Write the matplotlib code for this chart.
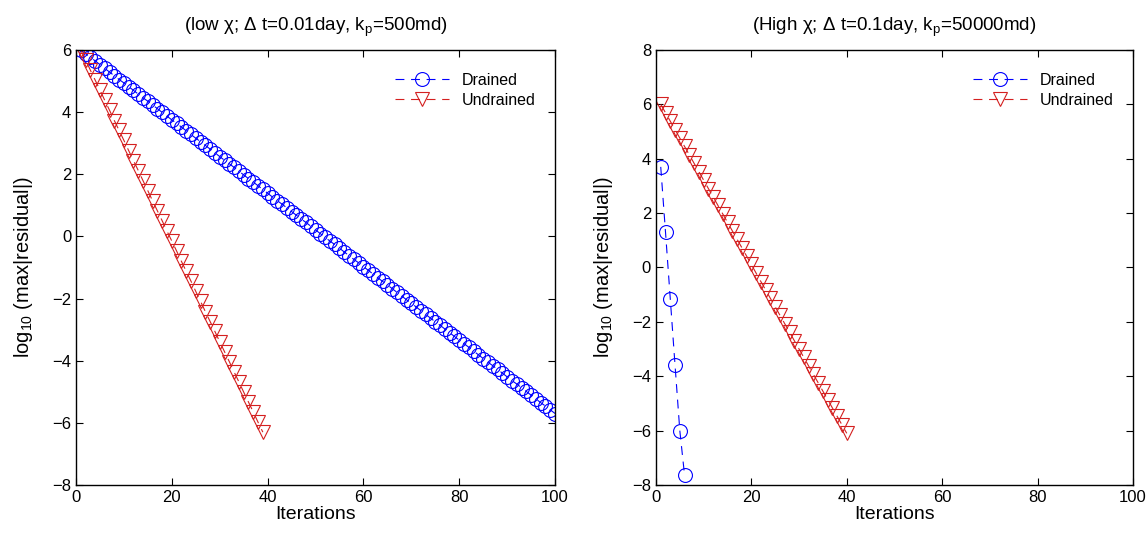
import numpy as np
import matplotlib
matplotlib.use('Agg')
import matplotlib.pyplot as plt

# left panel: low chi
it_left_drained = list(range(1, 101))
left_drained = [6.00, 5.88, 5.76, 5.65, 5.53, 5.41, 5.29, 5.17, 5.05, 4.94,
                4.82, 4.70, 4.58, 4.46, 4.35, 4.23, 4.11, 3.99, 3.87, 3.75,
                3.64, 3.52, 3.40, 3.28, 3.16, 3.05, 2.93, 2.81, 2.69, 2.57,
                2.45, 2.34, 2.22, 2.10, 1.98, 1.86, 1.75, 1.63, 1.51, 1.39,
                1.27, 1.15, 1.04, 0.92, 0.80, 0.68, 0.56, 0.45, 0.33, 0.21,
                0.09, -0.03, -0.15, -0.26, -0.38, -0.50, -0.62, -0.74, -0.85, -0.97,
                -1.09, -1.21, -1.33, -1.45, -1.56, -1.68, -1.80, -1.92, -2.04, -2.15,
                -2.27, -2.39, -2.51, -2.63, -2.75, -2.86, -2.98, -3.10, -3.22, -3.34,
                -3.45, -3.57, -3.69, -3.81, -3.93, -4.05, -4.16, -4.28, -4.40, -4.52,
                -4.64, -4.75, -4.87, -4.99, -5.11, -5.23, -5.35, -5.46, -5.58, -5.70]
it_left_undrained = list(range(1, 40))
left_undrained = [6.00, 5.68, 5.35, 5.03, 4.71, 4.38, 4.06, 3.73, 3.41, 3.09,
                  2.76, 2.44, 2.12, 1.79, 1.47, 1.14, 0.82, 0.50, 0.17, -0.15,
                  -0.47, -0.80, -1.12, -1.44, -1.77, -2.09, -2.42, -2.74, -3.06, -3.39,
                  -3.71, -4.03, -4.36, -4.68, -5.01, -5.33, -5.65, -5.98, -6.30]

# right panel: high chi
it_right_drained = [1, 2, 3, 4, 5, 6]
right_drained = [3.70, 1.30, -1.15, -3.60, -6.00, -7.65]
it_right_undrained = list(range(1, 41))
right_undrained = [6.00, 5.69, 5.38, 5.07, 4.76, 4.45, 4.14, 3.83, 3.52, 3.21,
                   2.90, 2.59, 2.28, 1.97, 1.66, 1.35, 1.04, 0.73, 0.42, 0.11,
                   -0.21, -0.52, -0.83, -1.14, -1.45, -1.76, -2.07, -2.38, -2.69, -3.00,
                   -3.31, -3.62, -3.93, -4.24, -4.55, -4.86, -5.17, -5.48, -5.79, -6.10]

titles = ['(low χ; Δ t=0.01day, k$_{\\rm p}$=500md)',
          '(High χ; Δ t=0.1day, k$_{\\rm p}$=50000md)']

plt.rcParams['font.family'] = ['Liberation Sans', 'DejaVu Sans']
plt.rcParams['mathtext.fontset'] = 'custom'
plt.rcParams['mathtext.rm'] = 'Liberation Sans'
plt.rcParams['mathtext.it'] = 'Liberation Sans:italic'

blue = '#0000ff'
red = '#d42020'

fig = plt.figure(figsize=(11.48, 5.34), dpi=100)
ax1 = fig.add_axes([0.0662, 0.0918, 0.4173, 0.8146])
ax2 = fig.add_axes([0.5714, 0.0918, 0.4155, 0.8146])

panels = [(ax1, it_left_drained, left_drained, it_left_undrained, left_undrained, (-8, 6)),
          (ax2, it_right_drained, right_drained, it_right_undrained, right_undrained, (-8, 8))]

for i, (ax, xd, yd, xu, yu, ylim) in enumerate(panels):
    ax.plot(xd, yd, '--o', color=blue, mfc='none', mec=blue, ms=10, lw=0.8, mew=0.8,
            dashes=(8, 6), label='Drained')
    ax.plot(xu, yu, '--v', color=red, mfc='none', mec=red, ms=10, lw=0.8, mew=0.8,
            dashes=(8, 6), label='Undrained')
    ax.set_xlim(0, 100)
    ax.set_ylim(*ylim)
    ax.set_xticks(range(0, 101, 20))
    ax.set_yticks(range(ylim[0], ylim[1] + 1, 2))
    ax.tick_params(direction='in', top=True, right=True, labelsize=12, length=5, width=0.8)
    for s in ax.spines.values():
        s.set_linewidth(1.0)
    ax.set_xlabel('Iterations', fontsize=14, labelpad=1)
    ax.set_ylabel('log$_{10}$ (max|residual|)', fontsize=14.5, labelpad=12)
    ax.set_title(titles[i], fontsize=13.5, pad=14)
    ax.legend(loc='upper right', frameon=False, fontsize=11.5, numpoints=1,
              handlelength=3.4, bbox_to_anchor=(0.99, 0.98), labelspacing=0.3)

fig.savefig('out.png', dpi=100)
